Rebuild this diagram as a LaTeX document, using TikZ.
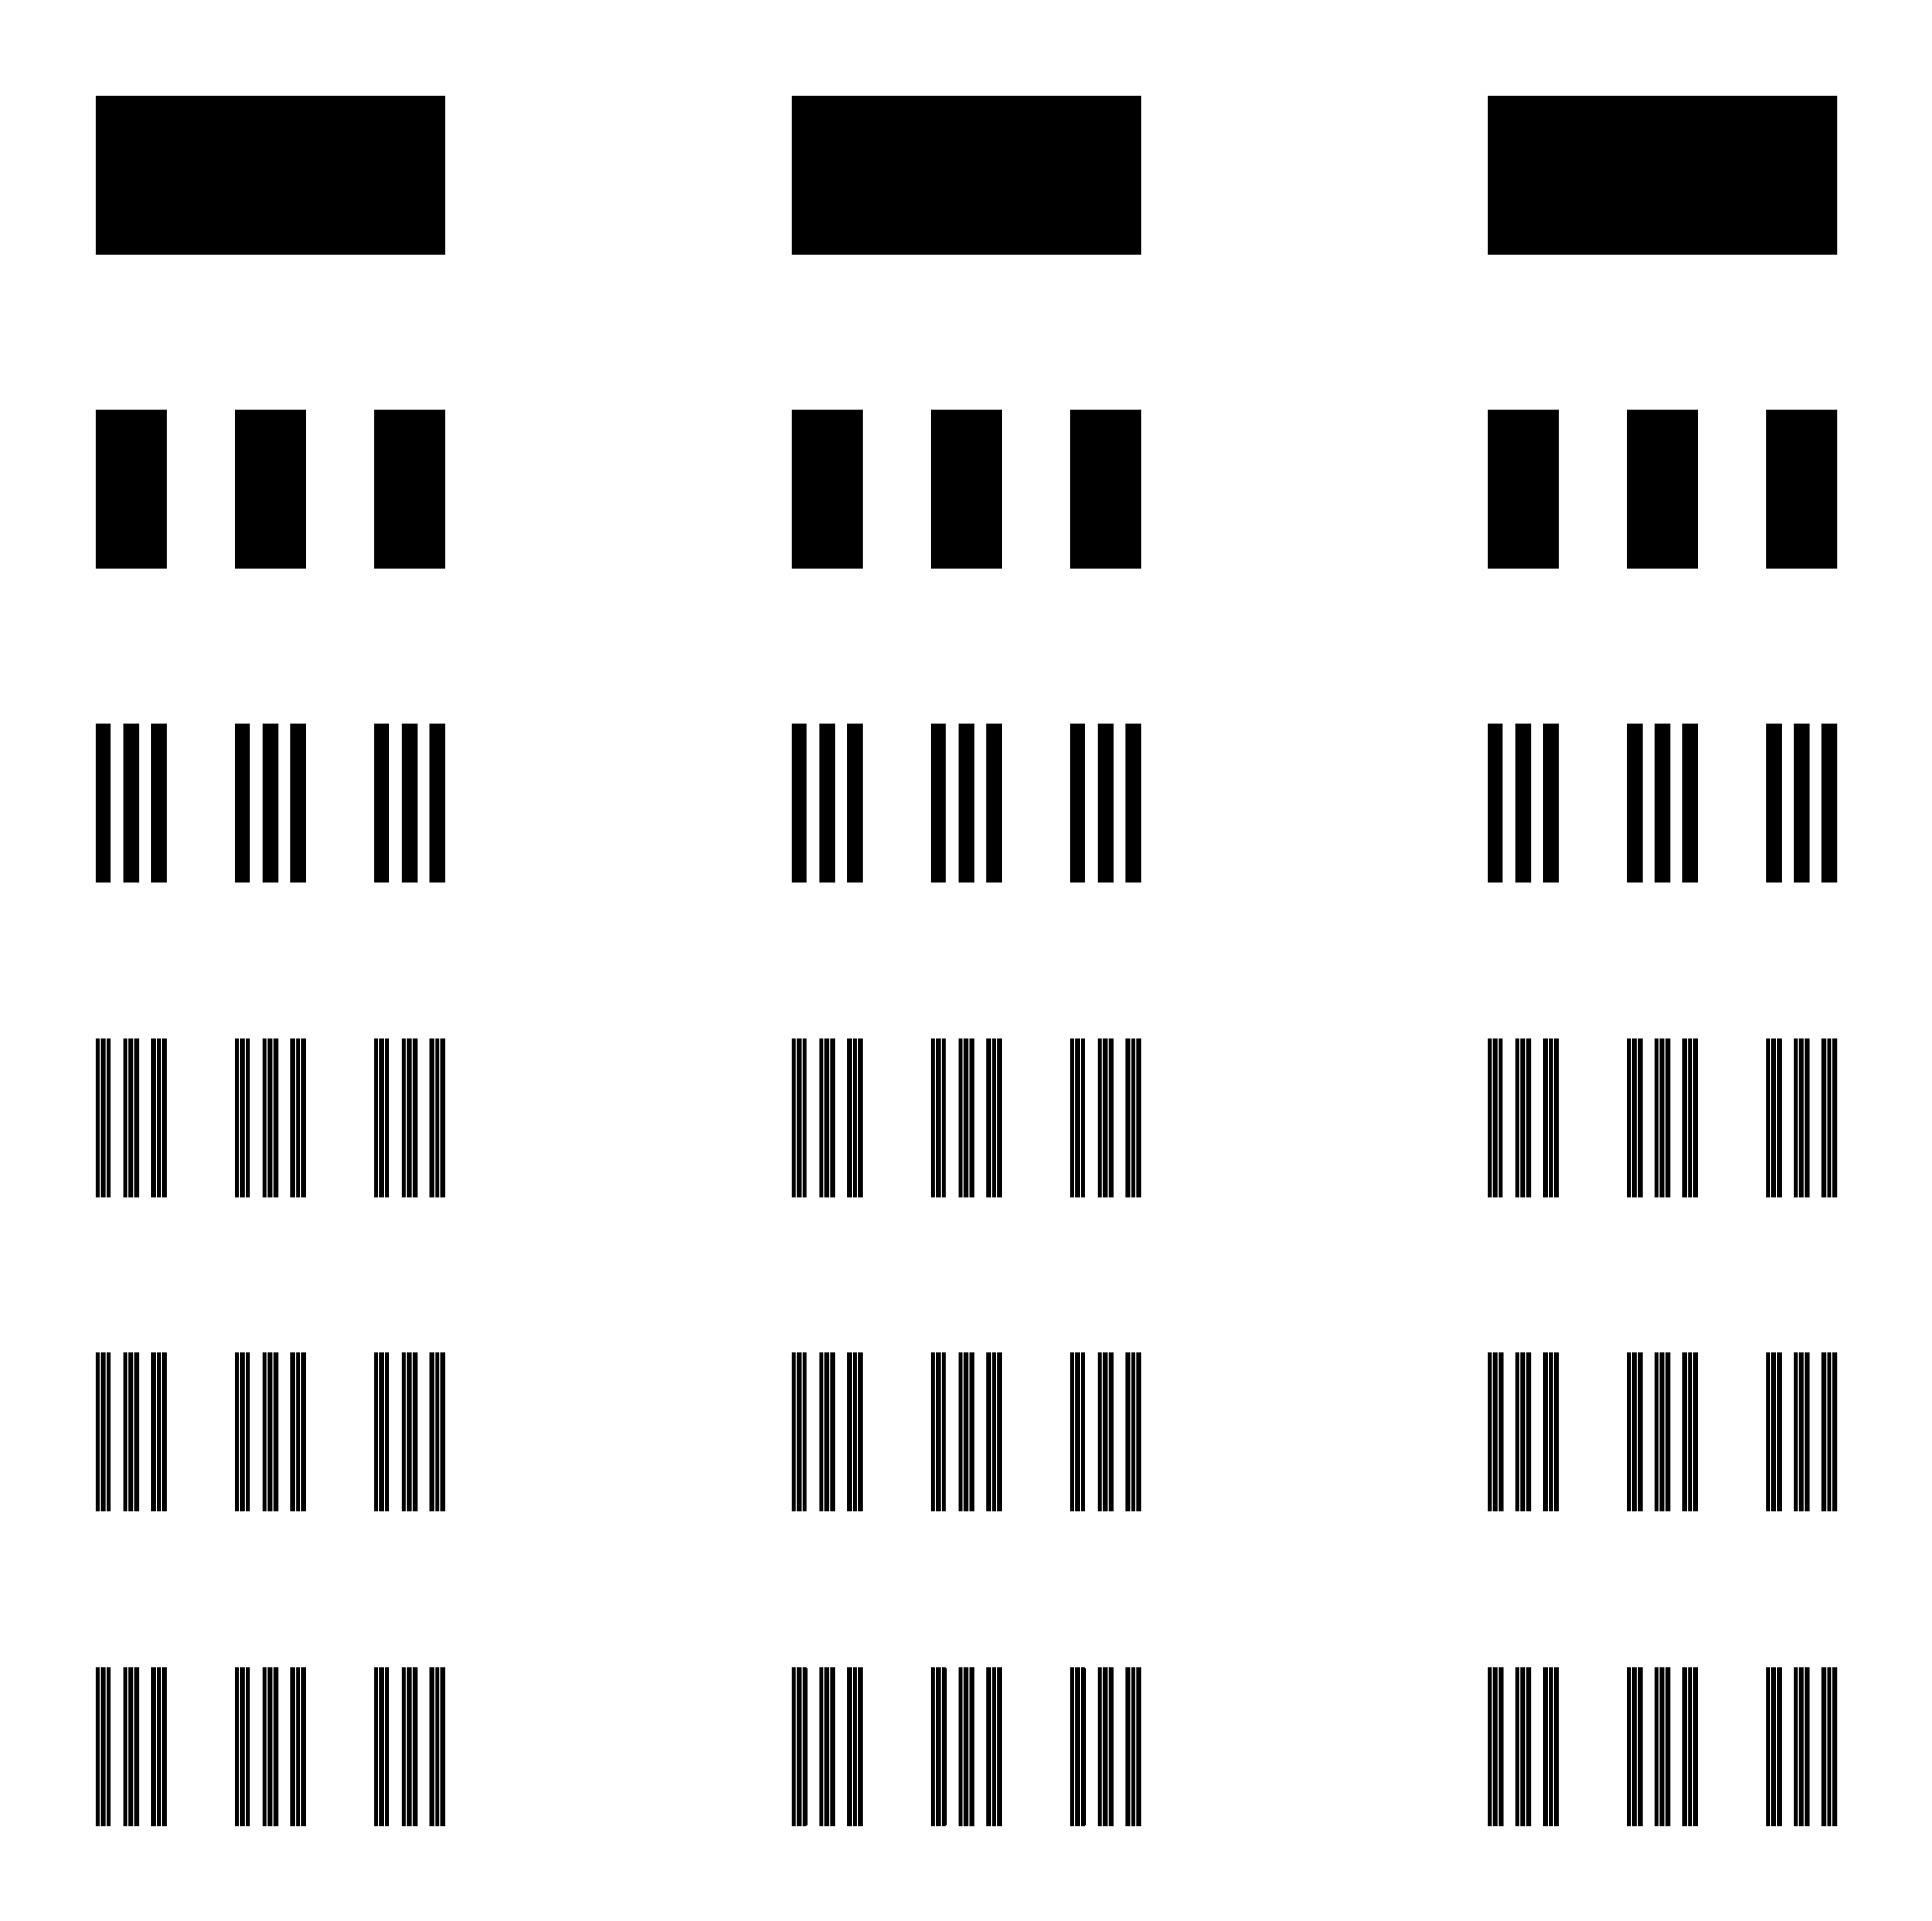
\documentclass[tikz,border=0pt]{standalone}
\begin{document}
\begin{tikzpicture}[line width=0.5pt]
 \useasboundingbox (0,0) rectangle (19.57,-19.45);
 \foreach \c in {0,1,2} {
 \begin{scope}[shift={(0.975+7.05*\c,-0.975)}]
 \filldraw (0,0) rectangle ++(3.525,-1.592);
 \foreach \a in {0,2,4}
  \filldraw (\a*0.705,-3.184) rectangle ++(0.705,-1.592);
 \foreach \a in {0,2,4} \foreach \b in {0,2,4}
  \filldraw (\a*0.705+\b*0.141,-6.368) rectangle ++(0.141,-1.592);
 \foreach \a in {0,2,4} \foreach \b in {0,2,4} \foreach \d in {0,2,4}
  \filldraw (\a*0.705+\b*0.141+\d*0.0282,-9.552) rectangle ++(0.0282,-1.592);
 \foreach \a in {0,2,4} \foreach \b in {0,2,4} \foreach \d in {0,2,4} \foreach \e in {0,2,4}
  \filldraw (\a*0.705+\b*0.141+\d*0.0282+\e*0.00564,-12.736) rectangle ++(0.00564,-1.592);
 \foreach \a in {0,2,4} \foreach \b in {0,2,4} \foreach \d in {0,2,4} \foreach \e in {0,2,4} \foreach \f in {0,2,4}
  \filldraw (\a*0.705+\b*0.141+\d*0.0282+\e*0.00564+\f*0.001128,-15.92) rectangle ++(0.001128,-1.592);
 \end{scope}
 }
\end{tikzpicture}
\end{document}
